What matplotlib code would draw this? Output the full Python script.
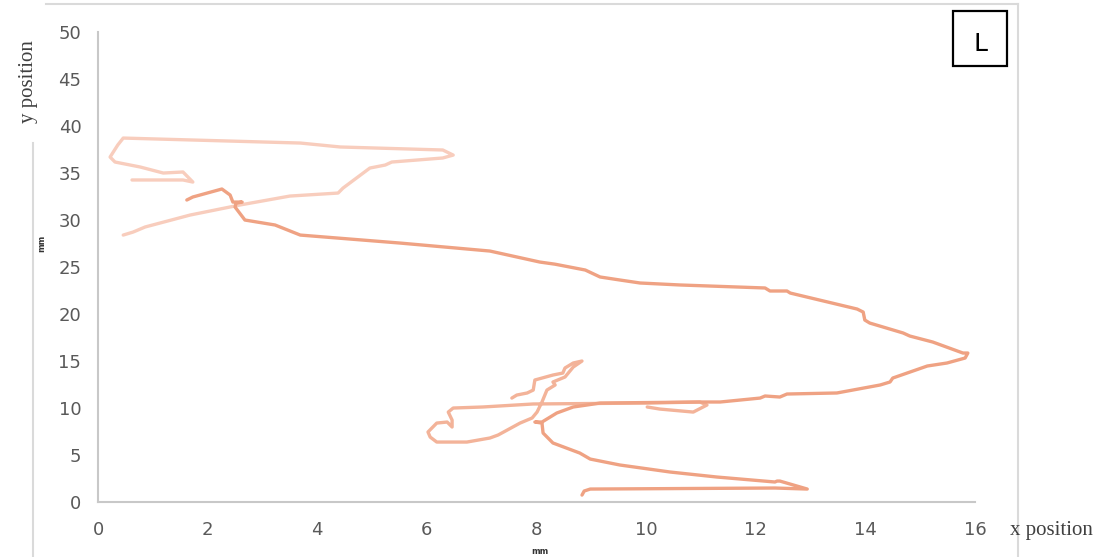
import numpy as np
import matplotlib.pyplot as plt
from matplotlib.lines import Line2D
from matplotlib.patches import Rectangle

# main (darker) track, mm
main_x = [1.62, 1.73, 2.26, 2.41, 2.46, 2.63, 2.52, 2.50, 2.68, 3.23, 3.69, 5.51, 7.15, 8.06, 8.34,
          8.89, 9.16, 9.52, 9.89, 10.62, 12.17, 12.26, 12.57, 12.63, 13.85, 13.96, 13.99, 14.08,
          14.69, 14.81, 15.23, 15.78, 15.87, 15.82, 15.49, 15.13, 14.50, 14.45, 14.27, 13.48,
          12.57, 12.44, 12.17, 12.08, 11.35, 10.98, 9.16, 8.92, 8.67, 8.37, 8.10, 7.97, 8.10,
          8.12, 8.30, 8.79, 8.98, 9.52, 10.44, 11.29, 12.35, 12.39, 12.44, 12.94, 12.35, 8.98,
          8.87, 8.83]
main_y = [32.13, 32.45, 33.30, 32.66, 31.91, 31.91, 31.80, 31.38, 30.00, 29.47, 28.40, 27.55,
          26.70, 25.53, 25.30, 24.68, 23.94, 23.62, 23.30, 23.09, 22.77, 22.45, 22.45, 22.23,
          20.53, 20.21, 19.36, 19.04, 17.98, 17.66, 17.02, 15.85, 15.85, 15.32, 14.79, 14.47,
          13.19, 12.77, 12.45, 11.60, 11.49, 11.17, 11.28, 11.06, 10.64, 10.64, 10.53, 10.32,
          10.11, 9.47, 8.51, 8.51, 8.40, 7.34, 6.28, 5.21, 4.57, 3.94, 3.19, 2.66, 2.13, 2.23,
          2.23, 1.38, 1.49, 1.38, 1.17, 0.74]

# middle (medium) track
mid_x = [10.02, 10.25, 10.86, 11.11, 10.98, 10.02, 7.94, 7.02, 6.48, 6.39, 6.46, 6.46, 6.37,
         6.18, 6.02, 6.06, 6.18, 6.73, 7.15, 7.30, 7.70, 7.92, 8.01, 8.10, 8.19, 8.34, 8.30,
         8.52, 8.67, 8.83, 8.67, 8.52, 8.48, 8.30, 7.97, 7.94, 7.83, 7.64, 7.55]
mid_y = [10.11, 9.89, 9.57, 10.32, 10.64, 10.53, 10.43, 10.11, 10.00, 9.57, 8.72, 7.98, 8.51,
         8.40, 7.45, 6.91, 6.38, 6.38, 6.81, 7.13, 8.40, 8.94, 9.57, 10.64, 11.91, 12.45, 12.77,
         13.30, 14.36, 15.00, 14.79, 14.26, 13.72, 13.51, 12.98, 11.91, 11.60, 11.38, 11.06]

# top (light) track
top_x = [0.46, 0.64, 0.86, 1.68, 2.59, 3.50, 4.38, 4.47, 4.96, 5.24, 5.36, 6.29, 6.48, 6.29,
         4.42, 3.69, 0.46, 0.36, 0.22, 0.31, 0.77, 1.19, 1.55, 1.73, 1.55, 0.62]
top_y = [28.40, 28.72, 29.26, 30.53, 31.60, 32.55, 32.87, 33.40, 35.53, 35.85, 36.17, 36.60,
         36.91, 37.45, 37.77, 38.19, 38.72, 37.98, 36.70, 36.17, 35.64, 35.00, 35.11, 34.04,
         34.26, 34.26]

x_ticks = np.arange(0, 17, 2)
y_ticks = np.arange(0, 51, 5)

fig = plt.figure(figsize=(11.19, 5.57), dpi=100)
ax = fig.add_axes([0.0876, 0.0987, 0.7837, 0.8438])

ax.plot(top_x, top_y, color='#F8CDBD', lw=2.4, solid_joinstyle='round', solid_capstyle='round')
ax.plot(mid_x, mid_y, color='#F3B399', lw=2.4, solid_joinstyle='round', solid_capstyle='round')
ax.plot(main_x, main_y, color='#EFA283', lw=2.4, solid_joinstyle='round', solid_capstyle='round')

ax.set_xlim(0, 16)
ax.set_ylim(0, 50)
ax.set_xticks(x_ticks)
ax.set_yticks(y_ticks)
ax.tick_params(length=0, labelsize=13, labelcolor='#595959', pad=12)
ax.tick_params(axis='x', pad=14)
for s in ['top', 'right']:
    ax.spines[s].set_visible(False)
for s in ['left', 'bottom']:
    ax.spines[s].set_color('#C8C8C8')
    ax.spines[s].set_linewidth(1.5)

# chart frame
W, H = 1119, 557
frame = '#DADADA'
fig.add_artist(Line2D([46 / W, 1018 / W], [1 - 4 / H, 1 - 4 / H], color=frame, lw=1.5))
fig.add_artist(Line2D([1018 / W, 1018 / W], [0, 1 - 4 / H], color=frame, lw=1.5))
fig.add_artist(Line2D([33 / W, 33 / W], [0, 1 - 143 / H], color=frame, lw=1.5))

# labels
fig.text(1010 / W, 1 - 530 / H, 'x position', family='Liberation Serif', fontsize=15,
         color='#404040', va='center', ha='left')
fig.text(28 / W, 1 - 82 / H, 'y position', family='Liberation Serif', fontsize=15,
         color='#404040', va='center', ha='center', rotation=90)
fig.text(540 / W, 1 - 551 / H, 'mm', fontsize=6, fontweight='bold', color='#333333',
         ha='center', va='center')
fig.text(42 / W, 1 - 243 / H, 'mm', fontsize=6, fontweight='bold', color='#333333',
         ha='center', va='center', rotation=90)

# panel tag
fig.add_artist(Rectangle((953 / W, 1 - 66 / H), 54 / W, 55 / H, fill=False,
                         edgecolor='black', lw=1.6, transform=fig.transFigure))
fig.text(980 / W, 1 - 44 / H, 'L', fontsize=18, color='black', ha='center', va='center')

fig.savefig('out.png', dpi=100)
